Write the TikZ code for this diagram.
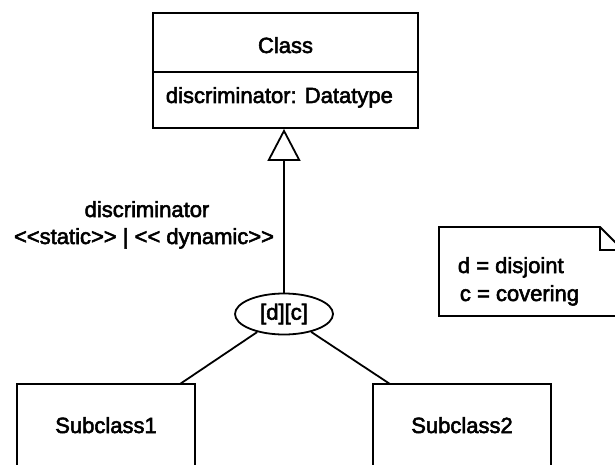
\documentclass[tikz,border=0pt]{standalone}
\usepackage{fontspec}
\setmainfont{Liberation Sans}
\newfontfamily\diafont{Liberation Sans}[FakeBold=2.5]
\usetikzlibrary{shapes.geometric,arrows.meta}
\begin{document}
\begin{tikzpicture}[x=1pt,y=-1pt,line width=1.8pt,
  txt/.style={font=\diafont\fontsize{22}{27}\selectfont,inner sep=0pt,anchor=base},
  umlbox/.style={draw,inner sep=0pt},
  gen/.style={-{Triangle[open,length=32pt,width=33pt]}}]
\useasboundingbox (0,0) rectangle (615,465);
\clip (0,0) rectangle (615,465);
% class
\node[umlbox,minimum width=265pt,minimum height=115pt] (cls) at (285.5,70.5) {};
\draw (cls.west |- 0,72) -- (cls.east |- 0,72);
\node[txt] (clsname) at (285.5,53) {Class};
\node[txt,anchor=base west] (attr) at (165,103) {discriminator: Datatype};
% discriminator labels
\node[txt] (lab1) at (147,217) {discriminator};
\node[txt] (lab2) at (144,244) {<{}<static>{}> | <{}< dynamic>{}>};
% generalization set
\node[draw,ellipse,minimum width=98pt,minimum height=41pt,inner sep=0pt,
      font=\diafont\fontsize{22}{27}\selectfont] (dc) at (284,314) {[d][c]};
\draw[gen] (dc.north) -- (dc.north |- cls.south);
% subclasses
\node[umlbox,minimum width=178pt,minimum height=100pt] (sub1) at (106,434) {};
\node[txt] (sub1name) at (106,433) {Subclass1};
\node[umlbox,minimum width=178pt,minimum height=100pt] (sub2) at (462,434) {};
\node[txt] (sub2name) at (462,433) {Subclass2};
\coordinate (s1top) at (180,384);
\coordinate (s2top) at (390,384);
\draw (dc) -- (s1top);
\draw (dc) -- (s2top);
% note
\draw (439,227) -- (600,227) -- (623,250) -- (623,316) -- (439,316) -- cycle;
\draw (600,227) -- (600,250) -- (623,250);
\node[txt,anchor=base west] (n1) at (457,273) {d = disjoint};
\node[txt,anchor=base west] (n2) at (459,301) {c = covering};
\end{tikzpicture}
\end{document}
